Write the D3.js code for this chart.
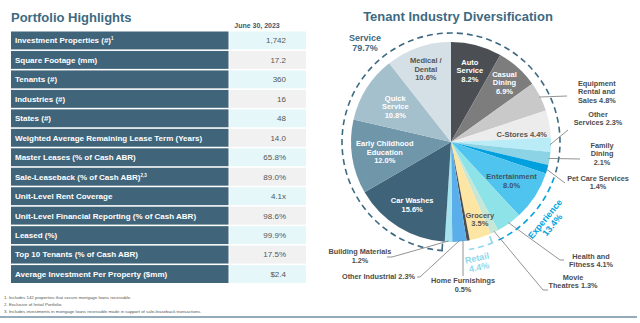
<!DOCTYPE html>
<html>
<head>
<meta charset="utf-8">
<script src="https://cdn.jsdelivr.net/npm/d3@7"></script>
<style>
body { margin: 0; background: #fff; }
svg { display: block; font-family: "Liberation Sans", Arial, sans-serif; }
</style>
</head>
<body>
<script>
// ---- table data ----
var rowLabels = ['Investment Properties (#)', 'Square Footage (mm)', 'Tenants (#)', 'Industries (#)', 'States (#)',
    'Weighted Average Remaining Lease Term (Years)', 'Master Leases (% of Cash ABR)', 'Sale-Leaseback (% of Cash ABR)',
    'Unit-Level Rent Coverage', 'Unit-Level Financial Reporting (% of Cash ABR)', 'Leased (%)',
    'Top 10 Tenants (% of Cash ABR)', 'Average Investment Per Property ($mm)'];
var rowNotes = ['1', '', '', '', '', '', '', '2,3', '', '', '', '', ''];
var rowValues = ['1,742', '17.2', '360', '16', '48', '14.0', '65.8%', '89.0%', '4.1x', '98.6%', '99.9%', '17.5%', '$2.4'];
var footnotes = ['1.  Includes 142 properties that secure mortgage loans receivable.',
    '2.  Exclusive of Initial Portfolio.',
    '3.  Includes investments in mortgage loans receivable made in support of sale-leaseback transactions.'];

// ---- pie data ----
var sliceNames = ['Auto Service', 'Casual Dining', 'Equipment Rental and Sales', 'C-Stores', 'Other Services',
    'Family Dining', 'Pet Care Services', 'Entertainment', 'Health and Fitness', 'Movie Theatres', 'Grocery',
    'Home Furnishings', 'Other Industrial', 'Building Materials', 'Car Washes', 'Early Childhood Education',
    'Quick Service', 'Medical / Dental'];
var sliceValues = [8.2, 6.9, 4.8, 4.4, 2.3, 2.1, 1.4, 8.0, 4.1, 1.3, 3.5, 0.5, 2.3, 1.2, 15.6, 12.0, 10.8, 10.6];
var sliceGroups = ['Service', 'Service', 'Service', 'Service', 'Service', 'Service', 'Service', 'Experience',
    'Experience', 'Experience', 'Retail', 'Retail', 'Industrial', 'Industrial', 'Service', 'Service', 'Service', 'Service'];
var groupNames = ['Service', 'Experience', 'Retail'];
var groupValues = [79.7, 13.4, 4.4];

var width = 640;
var height = 323;
var blue = '#3d6a82';

var sliceColor = d3.scaleOrdinal()
    .domain(sliceNames)
    .range(['#4b4f54', '#7d7d7d', '#c9c9c9', '#ececec', '#b9ecf6', '#8dd3e6', '#00a0df', '#4fc4ef', '#8ee3e8',
        '#c6e6d6', '#fde6a4', '#4d4d4d', '#5aaee9', '#a5e3ef', '#3f6378', '#7096aa', '#a5c0cd', '#d4e0e6']);
var groupColor = d3.scaleOrdinal().domain(groupNames).range([blue, '#00a3e0', '#8fd8ea']);

var svg = d3.select('body').append('svg')
    .attr('width', width)
    .attr('height', height);

drawTable();
drawPie();

function drawTable() {
    var y = d3.scaleBand().domain(rowLabels).range([31.5, 283]).paddingInner(0.08);

    svg.append('text')
        .attr('x', 11).attr('y', 22)
        .attr('font-size', 13).attr('font-weight', 'bold').attr('fill', blue)
        .text('Portfolio Highlights');
    svg.append('text')
        .attr('x', 257).attr('y', 27.5).attr('text-anchor', 'middle')
        .attr('font-size', 7).attr('font-weight', 'bold').attr('fill', '#3d5a70')
        .text('June 30, 2023');

    var rows = svg.selectAll('g.row')
        .data(rowLabels)
        .enter().append('g')
        .attr('class', 'row')
        .attr('transform', function(d) { return 'translate(0,' + y(d) + ')'; });

    rows.append('rect')
        .attr('x', 11).attr('width', 217.5)
        .attr('height', y.bandwidth())
        .attr('fill', '#40657b');
    rows.append('rect')
        .attr('x', 229.5).attr('width', 76.5)
        .attr('height', y.bandwidth())
        .attr('fill', function(d, i) { return i % 2 === 0 ? '#e6f7f9' : '#f1f1f1'; });

    var lab = rows.append('text')
        .attr('x', 15).attr('y', y.bandwidth() / 2 + 2.9)
        .attr('font-size', 8).attr('font-weight', 'bold').attr('fill', '#fff');
    lab.append('tspan').text(function(d) { return d; });
    lab.append('tspan')
        .attr('font-size', 4.5).attr('dy', -3)
        .text(function(d, i) { return rowNotes[i]; });

    rows.append('text')
        .attr('x', 286).attr('y', y.bandwidth() / 2 + 2.9)
        .attr('text-anchor', 'end')
        .attr('font-size', 8).attr('fill', '#555')
        .text(function(d, i) { return rowValues[i]; });

    svg.selectAll('text.note')
        .data(footnotes)
        .enter().append('text')
        .attr('class', 'note')
        .attr('x', 4)
        .attr('y', function(d, i) { return 299 + i * 6.8; })
        .attr('font-size', 4.4).attr('fill', '#555')
        .text(function(d) { return d; });

    svg.append('line')
        .attr('x1', 0).attr('x2', 637)
        .attr('y1', 317).attr('y2', 317)
        .attr('stroke', '#93abbb').attr('stroke-width', 2);
}

function drawPie() {
    var cx = 451, cy = 142, r = 100, rDash = 109;
    var fmt = function(v) { return d3.format('.1f')(v) + '%'; };

    svg.append('text')
        .attr('x', 458).attr('y', 21).attr('text-anchor', 'middle')
        .attr('font-size', 13).attr('font-weight', 'bold').attr('fill', blue)
        .text('Tenant Industry Diversification');

    var g = svg.append('g').attr('transform', 'translate(' + cx + ',' + cy + ')');

    var pie = d3.pie().sort(null).value(function(d, i) { return sliceValues[i]; });
    var arcs = pie(sliceNames);
    var arc = d3.arc().innerRadius(0).outerRadius(r);

    g.selectAll('path.slice')
        .data(arcs)
        .enter().append('path')
        .attr('class', 'slice')
        .attr('d', arc)
        .attr('fill', function(d) { return sliceColor(d.data); });

    // dashed group arcs
    var n = sliceNames.length;
    groupNames.forEach(function(grp) {
        var members = arcs.filter(function(a) { return sliceGroups[a.index] === grp; });
        var first = members.find(function(a) { return sliceGroups[(a.index - 1 + n) % n] !== grp; });
        var last = members.find(function(a) { return sliceGroups[(a.index + 1) % n] !== grp; });
        var s = first.startAngle, e = last.endAngle;
        if (e < s) e += 2 * Math.PI;
        var p = d3.path();
        p.arc(0, 0, rDash, s - Math.PI / 2 + 0.01, e - Math.PI / 2 - 0.01);
        g.append('path')
            .attr('d', p.toString())
            .attr('fill', 'none')
            .attr('stroke', groupColor(grp))
            .attr('stroke-width', 1.6)
            .attr('stroke-dasharray', '6,4');
        if (grp !== 'Experience') {
            var h = s + 0.02;
            g.append('line')
                .attr('x1', Math.sin(h) * rDash).attr('y1', -Math.cos(h) * rDash)
                .attr('x2', Math.sin(h) * (rDash - 7)).attr('y2', -Math.cos(h) * (rDash - 7))
                .attr('stroke', groupColor(grp)).attr('stroke-width', 1.6);
        }
    });

    // labels inside slices
    var inside = {
        'Auto Service': { k: 74, lines: ['Auto', 'Service', '{v}'], fill: '#fff' },
        'Casual Dining': { k: 80, lines: ['Casual', 'Dining', '{v}'], fill: '#fff' },
        'C-Stores': { k: 72, dy: 5, lines: ['C-Stores {v}'], fill: '#555' },
        'Entertainment': { k: 72, lines: ['Entertainment', '{v}'], fill: '#3d5566' },
        'Grocery': { k: 81, dx: 5, lines: ['Grocery', '{v}'], fill: '#555' },
        'Car Washes': { k: 74, lines: ['Car Washes', '{v}'], fill: '#fff' },
        'Early Childhood Education': { k: 67, lines: ['Early Childhood', 'Education', '{v}'], fill: '#fff' },
        'Quick Service': { k: 66, lines: ['Quick', 'Service', '{v}'], fill: '#fff' },
        'Medical / Dental': { k: 77, lines: ['Medical /', 'Dental', '{v}'], fill: '#555' }
    };
    var lh = 8.5;
    arcs.forEach(function(a) {
        var L = inside[a.data];
        if (!L) return;
        var m = (a.startAngle + a.endAngle) / 2;
        var x = Math.sin(m) * L.k + (L.dx || 0), y = -Math.cos(m) * L.k + (L.dy || 0);
        var t = g.append('text')
            .attr('text-anchor', 'middle')
            .attr('font-size', 7.5).attr('font-weight', 'bold').attr('fill', L.fill);
        L.lines.forEach(function(s, i) {
            t.append('tspan')
                .attr('x', x)
                .attr('y', y - (L.lines.length - 1) * lh / 2 + i * lh + 2.7)
                .text(s.replace('{v}', fmt(sliceValues[a.index])));
        });
    });

    // labels outside with leader lines (absolute page coordinates)
    var outside = {
        'Equipment Rental and Sales': { x: 578, y: 83, anchor: 'start', pts: [[567, 96]], lines: ['Equipment', 'Rental and', 'Sales {v}'] },
        'Other Services': { x: 598, y: 114, anchor: 'middle', pts: [[568, 130]], lines: ['Other', 'Services {v}'] },
        'Family Dining': { x: 602, y: 145, anchor: 'middle', pts: [[580, 159]], lines: ['Family', 'Dining', '{v}'] },
        'Pet Care Services': { x: 598, y: 178, anchor: 'middle', pts: [[565, 183]], lines: ['Pet Care Services', '{v}'] },
        'Health and Fitness': { x: 591, y: 256, anchor: 'middle', pts: [[560, 260], [564, 260]], lines: ['Health and', 'Fitness {v}'] },
        'Movie Theatres': { x: 573, y: 277, anchor: 'middle', pts: [[543, 290], [548, 290]], lines: ['Movie', 'Theatres {v}'] },
        'Home Furnishings': { x: 463, y: 280.5, anchor: 'middle', pts: [[463, 276]], lines: ['Home Furnishings', '{v}'] },
        'Other Industrial': { x: 415, y: 276.5, anchor: 'end', pts: [[420, 277], [417, 277]], lines: ['Other Industrial {v}'] },
        'Building Materials': { x: 360, y: 251.5, anchor: 'middle', pts: [[392, 257], [387, 257]], lines: ['Building Materials', '{v}'] }
    };
    arcs.forEach(function(a) {
        var L = outside[a.data];
        if (!L) return;
        var m = (a.startAngle + a.endAngle) / 2;
        var start = [cx + Math.sin(m) * (r - 1), cy - Math.cos(m) * (r - 1)];
        if (a.data === 'Home Furnishings') start = [L.pts[0][0], cy - Math.cos(m) * r];
        svg.append('path')
            .attr('d', d3.line()([start].concat(L.pts)))
            .attr('fill', 'none').attr('stroke', '#777').attr('stroke-width', 0.8);
        var t = svg.append('text')
            .attr('text-anchor', L.anchor)
            .attr('font-size', 7.3).attr('font-weight', 'bold').attr('fill', '#4d4d4d');
        L.lines.forEach(function(s, i) {
            t.append('tspan')
                .attr('x', L.x)
                .attr('y', L.y + i * lh + 2.7)
                .text(s.replace('{v}', fmt(sliceValues[a.index])));
        });
    });

    // group labels
    var grpLayout = {
        'Service': { x: 365, y: 40.5, rot: null },
        'Experience': { ang: 129.3, dist: 121.5 },
        'Retail': { ang: 167.4, dist: 119 }
    };
    groupNames.forEach(function(grp, gi) {
        var L = grpLayout[grp];
        var t;
        if (L.ang === undefined) {
            t = svg.append('text').attr('transform', 'translate(' + L.x + ',' + L.y + ')');
        } else {
            var ang = L.ang * Math.PI / 180;
            var px = cx + Math.sin(ang) * L.dist, py = cy - Math.cos(ang) * L.dist;
            t = svg.append('text')
                .attr('transform', 'translate(' + px + ',' + py + ') rotate(' + (L.ang - 180) + ')');
        }
        t.attr('text-anchor', 'middle').attr('font-size', 9).attr('font-weight', 'bold')
            .attr('fill', groupColor(grp));
        var yy = L.ang === undefined ? [0, 10.5] : [3, 12.5];
        t.append('tspan').attr('x', 0).attr('y', yy[0]).text(grp);
        t.append('tspan').attr('x', 0).attr('y', yy[1]).text(fmt(groupValues[gi]));
    });
}
</script>
</body>
</html>
